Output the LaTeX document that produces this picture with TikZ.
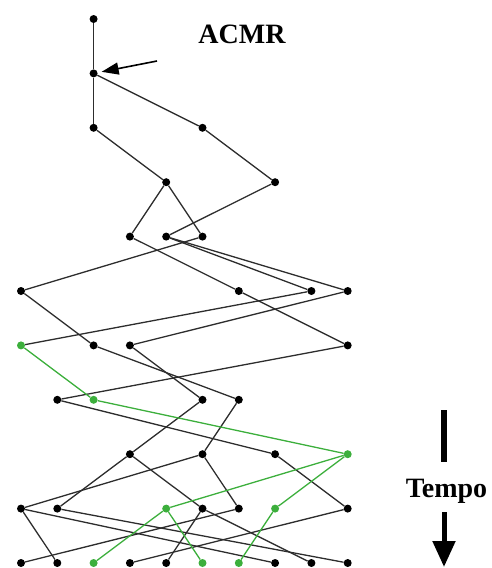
\documentclass[tikz,border=0pt]{standalone}
\usepackage{fontspec}
\setmainfont{Liberation Serif}
\usetikzlibrary{arrows.meta}
\definecolor{edgegray}{RGB}{45,45,45}
\definecolor{gen}{RGB}{60,175,60}
\begin{document}
\begin{tikzpicture}[x=1pt,y=-1pt,
  dot/.style={circle,fill=black,inner sep=0pt,minimum size=8pt},
  gdot/.style={dot,fill=gen},
  edge/.style={draw=edgegray,line width=1.3pt},
  gedge/.style={draw=gen,line width=1.3pt},
  lbl/.style={font=\bfseries\fontsize{28}{30}\selectfont,inner sep=0pt}]
\useasboundingbox (0,0) rectangle (492,568);
% black nodes
\foreach \r/\c in {1/2,2/2,3/2,3/5,4/4,4/7,5/3,5/4,5/5,6/0,6/6,6/8,6/9,7/2,7/3,7/9,8/1,8/5,8/6,9/3,9/5,9/7,10/0,10/1,10/5,10/6,10/9,11/0,11/1,11/3,11/4,11/7,11/8,11/9}
  \node[dot] (n\r-\c) at ({21+36.3*\c},{19+54.4*(\r-1)}) {};
% green nodes
\foreach \r/\c in {7/0,8/2,9/9,10/4,10/7,11/2,11/5,11/6}
  \node[gdot] (n\r-\c) at ({21+36.3*\c},{19+54.4*(\r-1)}) {};
% black edges
\foreach \a/\b/\c/\d in {1/2/2/2,2/2/3/2,2/2/3/5,3/2/4/4,3/5/4/7,4/4/5/3,4/4/5/5,4/7/5/4,5/5/6/0,5/3/6/6,5/4/6/8,5/4/6/9,6/8/7/0,6/0/7/2,6/9/7/3,6/6/7/9,7/9/8/1,7/3/8/5,7/2/8/6,8/5/9/3,8/6/9/5,8/1/9/7,9/5/10/0,9/3/10/1,9/3/10/5,9/5/10/6,9/7/10/9,10/6/11/0,10/0/11/1,10/9/11/3,10/5/11/4,10/0/11/7,10/5/11/8,10/1/11/9}
  \draw[edge] (n\a-\b) -- (n\c-\d);
% green edges
\foreach \a/\b/\c/\d in {7/0/8/2,8/2/9/9,9/9/10/4,9/9/10/7,10/4/11/2,10/4/11/5,10/7/11/6}
  \draw[gedge] (n\a-\b) -- (n\c-\d);
% ACMR label and arrow
\node[lbl,anchor=base] (acmr) at (242,43) {ACMR};
\coordinate (atail) at (157,61);
\draw[line width=1.6pt,-{Triangle[length=17pt,width=12pt]},shorten >=4pt] (atail) -- (n2-2);
% Tempo
\node[lbl,anchor=base] (tempo) at (446.5,497) {Tempo};
\coordinate (bartop) at (444,410);
\coordinate (barbot) at (444,462);
\draw[line width=6pt] (bartop) -- (barbot);
\coordinate (arrtop) at (444,512);
\coordinate (arrbot) at (444,567);
\draw[line width=5pt,-{Triangle[length=26pt,width=22pt]}] (arrtop) -- (arrbot);
\end{tikzpicture}
\end{document}
